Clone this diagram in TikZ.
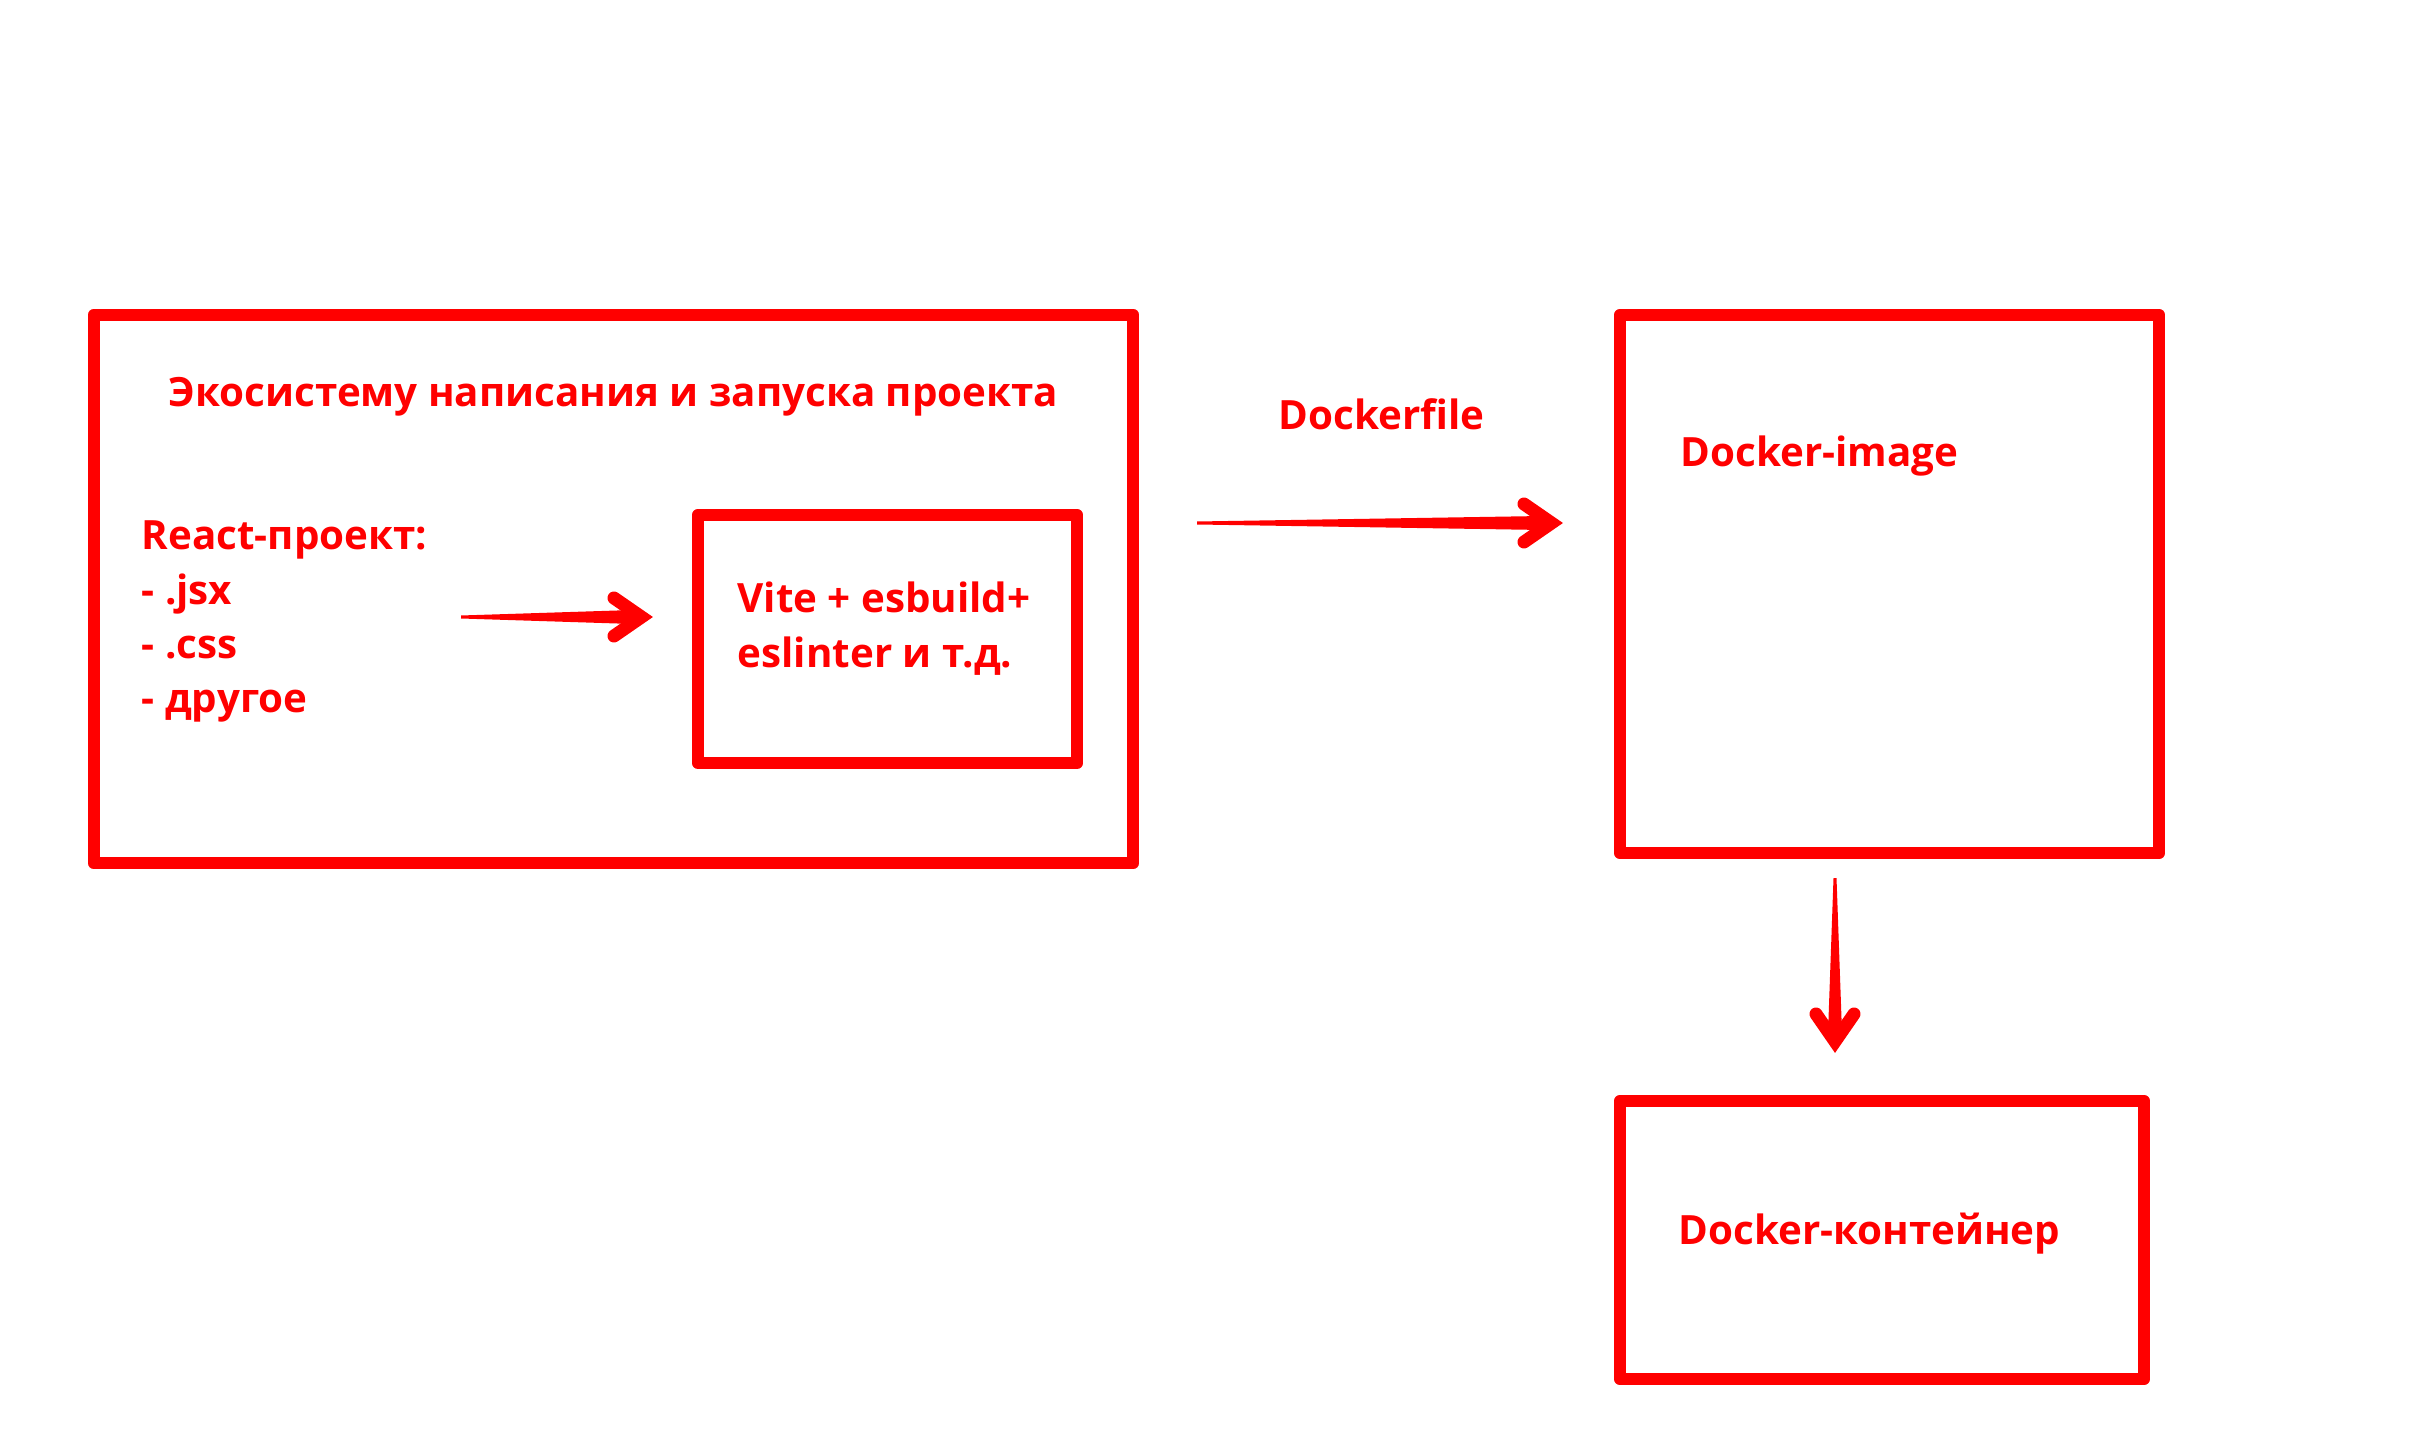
\documentclass[tikz,border=0pt]{standalone}
\usepackage{fontspec}
\setmainfont{Open Sans}
\usetikzlibrary{calc}
\definecolor{stickred}{RGB}{255,0,0}
\tikzset{
  box/.style={draw=stickred, line width=0.12cm, line join=round, inner sep=0pt, outer sep=0pt},
  lbl/.style={text=stickred, font=\fontsize{0.403cm}{0.54cm}\selectfont\bfseries, inner sep=0pt, anchor=base west},
  arrowbody/.style={fill=stickred},
  arrowhead/.style={draw=stickred, line width=0.13cm, line cap=round, line join=miter},
}
\newcommand\fatarrow[2]{%
  \fill[arrowbody] ($(#1)!0.015cm!90:(#2)$) -- ($($(#2)!0.2cm!(#1)$)!0.07cm!90:(#2)$)
    -- ($($(#2)!0.2cm!(#1)$)!0.07cm!-90:(#2)$) -- ($(#1)!0.015cm!-90:(#2)$) -- cycle;
  \draw[arrowhead] ($($(#2)!0.39cm!(#1)$)!0.19cm!90:(#2)$) -- ($(#2)!0.115cm!(#1)$)
    -- ($($(#2)!0.39cm!(#1)$)!0.19cm!-90:(#2)$);
}
\begin{document}
\begin{tikzpicture}[x=0.01cm,y=-0.01cm]
\useasboundingbox[fill=white] (0,0) rectangle (2415,1440);
% boxes
\node[box, minimum width=10.39cm, minimum height=5.48cm] (eco) at (613.5,589) {};
\node[box, minimum width=3.79cm, minimum height=2.48cm] (vite) at (887.5,639) {};
\node[box, minimum width=5.39cm, minimum height=5.38cm] (image) at (1889.5,584) {};
\node[box, minimum width=5.24cm, minimum height=2.78cm] (cont) at (1882,1240) {};
% texts
\node[lbl, anchor=base] (title) at (613.5,407) {Экосистему написания и запуска проекта};
\node[lbl] (r1) at (141,550) {React-проект:};
\node[lbl] (r2) at (141,605) {- .jsx};
\node[lbl] (r3) at (141,659) {- .css};
\node[lbl] (r4) at (141,713) {- другое};
\node[lbl] (v1) at (737,613) {Vite + esbuild+};
\node[lbl] (v2) at (737,668) {eslinter и т.д.};
\node[lbl] (dfile) at (1278,430) {Dockerfile};
\node[lbl] (dimg) at (1680,467) {Docker-image};
\node[lbl] (dcont) at (1678,1244) {Docker-контейнер};
% arrows
\coordinate (a1s) at (461,617);
\coordinate (a1e) at (653,617);
\coordinate (a2s) at (1197,523);
\coordinate (a2e) at (1563,523);
\coordinate (a3s) at (1835,878);
\coordinate (a3e) at (1835,1053);
\fatarrow{a1s}{a1e}
\fatarrow{a2s}{a2e}
\fatarrow{a3s}{a3e}
\end{tikzpicture}
\end{document}
